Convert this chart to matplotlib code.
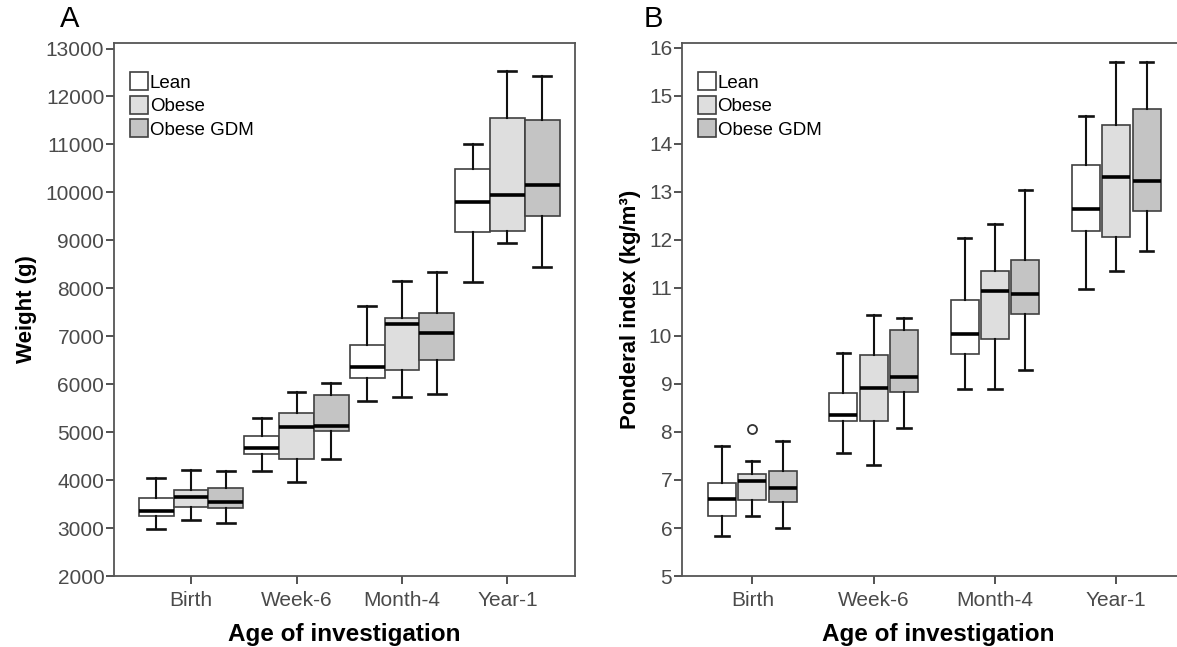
import matplotlib
matplotlib.use("Agg")
import matplotlib.pyplot as plt
from matplotlib.patches import Patch

plt.rcParams['font.family'] = ['Liberation Sans', 'DejaVu Sans']

# ----------------------------
# Data
# ----------------------------
ages = ["Birth", "Week-6", "Month-4", "Year-1"]
groups = ["Lean", "Obese", "Obese GDM"]
group_colors = ["#ffffff", "#dedede", "#c4c4c4"]

# Panel A: weight (g); one list per group, one value per age
w_low = {"Lean": [2985, 4190, 5640, 8130],
         "Obese": [3175, 3955, 5740, 8955],
         "Obese GDM": [3115, 4450, 5800, 8435]}
w_q1 = {"Lean": [3260, 4540, 6130, 9175],
        "Obese": [3435, 4435, 6290, 9190],
        "Obese GDM": [3410, 5025, 6495, 9505]}
w_med = {"Lean": [3350, 4680, 6350, 9810],
         "Obese": [3650, 5110, 7260, 9955],
         "Obese GDM": [3540, 5130, 7070, 10145]}
w_q3 = {"Lean": [3635, 4930, 6825, 10495],
        "Obese": [3785, 5390, 7390, 11550],
        "Obese GDM": [3845, 5785, 7495, 11520]}
w_high = {"Lean": [4040, 5305, 7625, 11015],
          "Obese": [4215, 5845, 8150, 12540],
          "Obese GDM": [4200, 6015, 8345, 12425]}

# Panel B: ponderal index (kg/m3)
p_low = {"Lean": [5.83, 7.57, 8.90, 10.98],
         "Obese": [6.24, 7.32, 8.90, 11.35],
         "Obese GDM": [6.00, 8.09, 9.30, 11.76]}
p_q1 = {"Lean": [6.26, 8.22, 9.63, 12.19],
        "Obese": [6.59, 8.22, 9.93, 12.07],
        "Obese GDM": [6.54, 8.83, 10.45, 12.61]}
p_med = {"Lean": [6.60, 8.35, 10.04, 12.65],
         "Obese": [6.97, 8.91, 10.93, 13.30],
         "Obese GDM": [6.84, 9.15, 10.87, 13.22]}
p_q3 = {"Lean": [6.93, 8.81, 10.74, 13.56],
        "Obese": [7.13, 9.60, 11.35, 14.39],
        "Obese GDM": [7.19, 10.13, 11.59, 14.73]}
p_high = {"Lean": [7.71, 9.65, 12.03, 14.58],
          "Obese": [7.39, 10.43, 12.33, 15.70],
          "Obese GDM": [7.81, 10.37, 13.03, 15.70]}
p_fliers = {"Obese": {0: [8.07]}}


def make_stats(low, q1, med, q3, high, fliers=None):
    stats = []
    for gi, g in enumerate(groups):
        for ai in range(len(ages)):
            fl = []
            if fliers and g in fliers:
                fl = fliers[g].get(ai, [])
            stats.append(dict(whislo=low[g][ai], q1=q1[g][ai], med=med[g][ai],
                              q3=q3[g][ai], whishi=high[g][ai], fliers=fl))
    return stats


def draw_panel(ax, stats, offset, width, capw):
    k = 0
    for gi, g in enumerate(groups):
        pos = [ai + (gi - 1) * offset for ai in range(len(ages))]
        st = stats[k:k + len(ages)]
        k += len(ages)
        ax.bxp(st, positions=pos, widths=width, patch_artist=True,
               showfliers=True, manage_ticks=False,
               boxprops=dict(facecolor=group_colors[gi], edgecolor="#404040", linewidth=1.2),
               medianprops=dict(color="black", linewidth=2.6),
               whiskerprops=dict(color="#111111", linewidth=1.5),
               capprops=dict(color="#111111", linewidth=1.9),
               capwidths=capw,
               flierprops=dict(marker="o", markerfacecolor="none",
                               markeredgecolor="#333333", markersize=6.5, markeredgewidth=1.3))
    ax.set_xticks(range(len(ages)))
    ax.set_xticklabels(ages)
    for sp in ax.spines.values():
        sp.set_color("#555555")
        sp.set_linewidth(1.3)
    ax.tick_params(axis="both", direction="out", length=6, width=1.3,
                   color="#444444", labelcolor="#4a4a4a", labelsize=15, pad=1)
    ax.tick_params(axis="x", pad=5)
    handles = [Patch(facecolor=c, edgecolor="#404040", linewidth=1.2) for c in group_colors]
    ax.legend(handles, groups, loc="upper left", frameon=False, fontsize=13.5,
              handlelength=0.95, handleheight=1.1, handletextpad=0.1,
              labelspacing=0.22, borderaxespad=0.45, bbox_to_anchor=(0.0, 0.975))
    ax.set_xlabel("Age of investigation", fontsize=17.5, fontweight="bold", labelpad=9)


fig = plt.figure(figsize=(11.77, 6.47), dpi=100)

# Panel A
axA = fig.add_axes([0.0969, 0.1097, 0.3916, 0.8238])
draw_panel(axA, make_stats(w_low, w_q1, w_med, w_q3, w_high), 0.33, 0.33, 0.17)
axA.set_xlim(-0.73, 3.64)
axA.set_ylim(2000, 13115)
axA.set_yticks(range(2000, 13001, 1000))
axA.set_ylabel("Weight (g)", fontsize=16, fontweight="bold", labelpad=6)
fig.text(0.051, 0.97, "A", fontsize=21, va="center", ha="left")

# Panel B (right frame runs off the edge of the image)
axB = fig.add_axes([0.5794, 0.1097, 0.435, 0.8238])
draw_panel(axB, make_stats(p_low, p_q1, p_med, p_q3, p_high, p_fliers), 0.25, 0.23, 0.11)
axB.set_xlim(-0.58, 3.64)
axB.set_ylim(5, 16.1)
axB.set_yticks(range(5, 17))
axB.set_ylabel("Ponderal index (kg/m\u00b3)", fontsize=16, fontweight="bold", labelpad=6)
fig.text(0.547, 0.97, "B", fontsize=21, va="center", ha="left")

fig.savefig("out.png", dpi=100, facecolor="white")
